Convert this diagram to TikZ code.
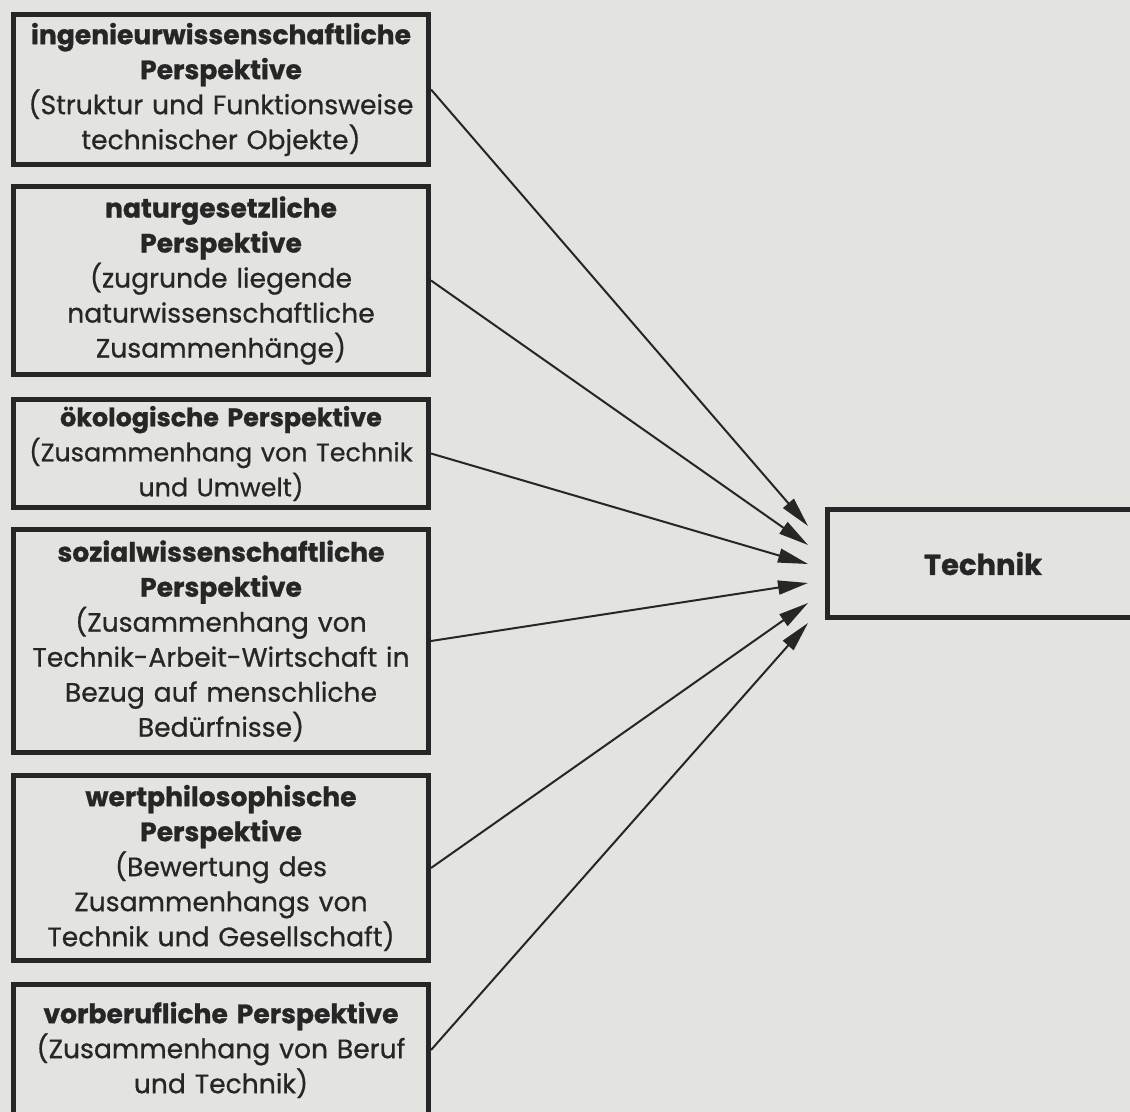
\documentclass[tikz,border=0pt]{standalone}
\usepackage{fontspec}
\setmainfont{Poppins}[UprightFeatures={FakeBold=0.7},BoldFeatures={FakeBold=0.9}]
\usepackage{xcolor}
\usepackage{tikz}
\usetikzlibrary{arrows,arrows.meta,positioning}
\definecolor{paper}{RGB}{227,227,224}
\definecolor{ink}{RGB}{38,38,38}
\tikzstyle{perspective} = [draw=ink, line width=2.5pt, rectangle, minimum width=207.5pt, text width=207pt, align=center, inner sep=0pt, font=\fontsize{13.3}{17.5}\selectfont, text=ink]
\tikzstyle{arrow} = [draw=ink, line width=1pt, -{Triangle[length=15pt,width=7pt]}]

\begin{document}
\begin{tikzpicture}[x=0.5pt,y=-0.5pt]
\fill[paper] (0,0) rectangle (1130,1112);
\useasboundingbox (0,0) rectangle (1130,1112);

\node[perspective, minimum height=75pt] (ing) at (221,89.5) {\textbf{ingenieurwissenschaftliche}\\ \textbf{Perspektive}\\ (Struktur und Funktionsweise\\ technischer Objekte)};
\node[perspective, minimum height=94pt] (nat) at (221,280.5) {\textbf{naturgesetzliche}\\ \textbf{Perspektive}\\ (zugrunde liegende\\ naturwissenschaftliche\\ Zusammenhänge)};
\node[perspective, minimum height=54pt, font=\fontsize{12.7}{17.5}\selectfont] (oeko) at (221,453.5) {\textbf{ökologische Perspektive}\\ (Zusammenhang von Technik\\ und Umwelt)};
\node[perspective, minimum height=111.5pt] (sozial) at (221,641) {\textbf{sozialwissenschaftliche}\\ \textbf{Perspektive}\\ (Zusammenhang von\\ Technik-Arbeit-Wirtschaft in\\ Bezug auf menschliche\\ Bedürfnisse)};
\node[perspective, minimum height=92.5pt] (wert) at (221,868) {\textbf{wertphilosophische}\\ \textbf{Perspektive}\\ (Bewertung des\\ Zusammenhangs von\\ Technik und Gesellschaft)};
\node[perspective, minimum height=65.5pt] (beruf) at (221,1050) {\textbf{vorberufliche Perspektive}\\ (Zusammenhang von Beruf\\ und Technik)};

\node[perspective, text width=70pt, minimum width=155.5pt, minimum height=54pt, font=\fontsize{14.5}{17.5}\selectfont] (technik) at (983,563.5) {\textbf{Technik}};

% Pfeilspitzen vor dem Kasten Technik
\coordinate (t1) at (808,526);
\coordinate (t2) at (808,545);
\coordinate (t3) at (808,564);
\coordinate (t4) at (808,583);
\coordinate (t5) at (808,603);
\coordinate (t6) at (808,623);

\draw[arrow] (ing.east) -- (t1);
\draw[arrow] (nat.east) -- (t2);
\draw[arrow] (oeko.east) -- (t3);
\draw[arrow] (sozial.east) -- (t4);
\draw[arrow] (wert.east) -- (t5);
\draw[arrow] (beruf.east) -- (t6);
\end{tikzpicture}
\end{document}
